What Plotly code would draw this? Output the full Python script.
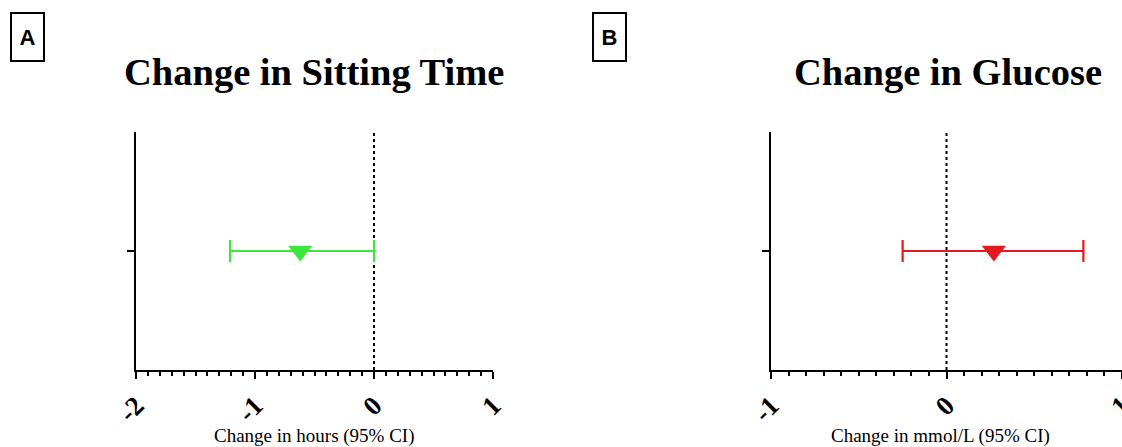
import plotly.graph_objects as go

W, H = 1122, 447

# ---- data ----
panel_letters = ["A", "B"]
panel_titles = ["Change in Sitting Time", "Change in Glucose"]
x_titles = ["Change in hours (95% CI)", "Change in mmol/L (95% CI)"]
estimates = [-0.62, 0.27]
ci_lower = [-1.21, -0.25]
ci_upper = [0.0, 0.78]
colors = ["#3ce63c", "#e3191f"]
x_ranges = [[-2, 1], [-1, 1]]
tick_vals = [[-2, -1, 0, 1], [-1, 0, 1]]
tick_text = [["-2", "-1", "0", "1"], ["-1", "0", "1"]]
ref_value = 0

# ---- layout geometry (pixels) ----
x_dom_px = [(136, 493), (771, 1122)]
y_dom_px = (132, 370)

fig = go.Figure()

for i in range(2):
    xa = "x" if i == 0 else "x2"
    ya = "y" if i == 0 else "y2"
    fig.add_trace(go.Scatter(
        x=[estimates[i]], y=[0], xaxis=xa, yaxis=ya,
        mode="markers",
        marker=dict(symbol="triangle-down", size=21, color=colors[i]),
        error_x=dict(type="data", symmetric=False,
                     array=[ci_upper[i] - estimates[i]],
                     arrayminus=[estimates[i] - ci_lower[i]],
                     color=colors[i], thickness=2.2, width=11),
        showlegend=False, hoverinfo="skip", cliponaxis=False,
    ))
    # dotted reference line
    fig.add_shape(type="line", xref=xa, yref=f"{ya} domain",
                  x0=ref_value, x1=ref_value, y0=0, y1=1,
                  line=dict(color="black", width=2, dash="dot"), layer="below")

axis_common_x = dict(
    showline=True, linecolor="black", linewidth=2.2, showgrid=False, zeroline=False,
    ticks="outside", ticklen=7, tickwidth=2, tickcolor="black",
    tickangle=-45, automargin=False, ticklabeloverflow="allow",
    tickfont=dict(family="Liberation Serif", size=27, color="black", weight="bold"),
    minor=dict(dtick=0.1, ticks="outside", ticklen=4, tickwidth=1.5, tickcolor="black", showgrid=False),
)
axis_common_y = dict(
    showline=True, linecolor="black", linewidth=2.2, showgrid=False, zeroline=False,
    range=[-1, 1], tickvals=[0], ticktext=[""], ticks="outside", ticklen=7,
    tickwidth=2, tickcolor="black", automargin=False,
)

ydom = [1 - y_dom_px[1] / H, 1 - y_dom_px[0] / H]

layout = dict(
    width=W, height=H, margin=dict(l=0, r=0, t=0, b=0, autoexpand=False),
    paper_bgcolor="white", plot_bgcolor="white",
)
for i in range(2):
    suf = "" if i == 0 else "2"
    xd = [x_dom_px[i][0] / W, x_dom_px[i][1] / W]
    xcfg = dict(axis_common_x)
    xcfg.update(domain=xd, range=x_ranges[i], tickvals=tick_vals[i], ticktext=tick_text[i],
                anchor="y" + suf)
    ycfg = dict(axis_common_y)
    ycfg.update(domain=ydom, anchor="x" + suf)
    layout["xaxis" + suf] = xcfg
    layout["yaxis" + suf] = ycfg

fig.update_layout(**layout)

title_cx = [313.5, 948]
xt_cx = [314, 940]
label_x = [10, 592]
ann = []
for i in range(2):
    ann.append(dict(text=panel_titles[i], xref="paper", yref="paper",
                    x=title_cx[i] / W, y=1 - 72 / H, xanchor="center", yanchor="middle",
                    showarrow=False,
                    font=dict(family="Liberation Serif", size=38.5, color="black", weight="bold")))
    ann.append(dict(text=x_titles[i], xref="paper", yref="paper",
                    x=xt_cx[i] / W, y=1 - 436 / H, xanchor="center", yanchor="middle",
                    showarrow=False,
                    font=dict(family="Liberation Serif", size=19, color="black")))
    ann.append(dict(text=panel_letters[i], xref="paper", yref="paper",
                    x=label_x[i] / W, y=1 - 12 / H, xanchor="left", yanchor="top",
                    showarrow=False, width=29, height=44, borderpad=1,
                    bordercolor="black", borderwidth=2, bgcolor="white",
                    font=dict(family="Liberation Sans", size=22, color="black", weight="bold")))
fig.update_layout(annotations=ann)

fig.write_html("out.html")
